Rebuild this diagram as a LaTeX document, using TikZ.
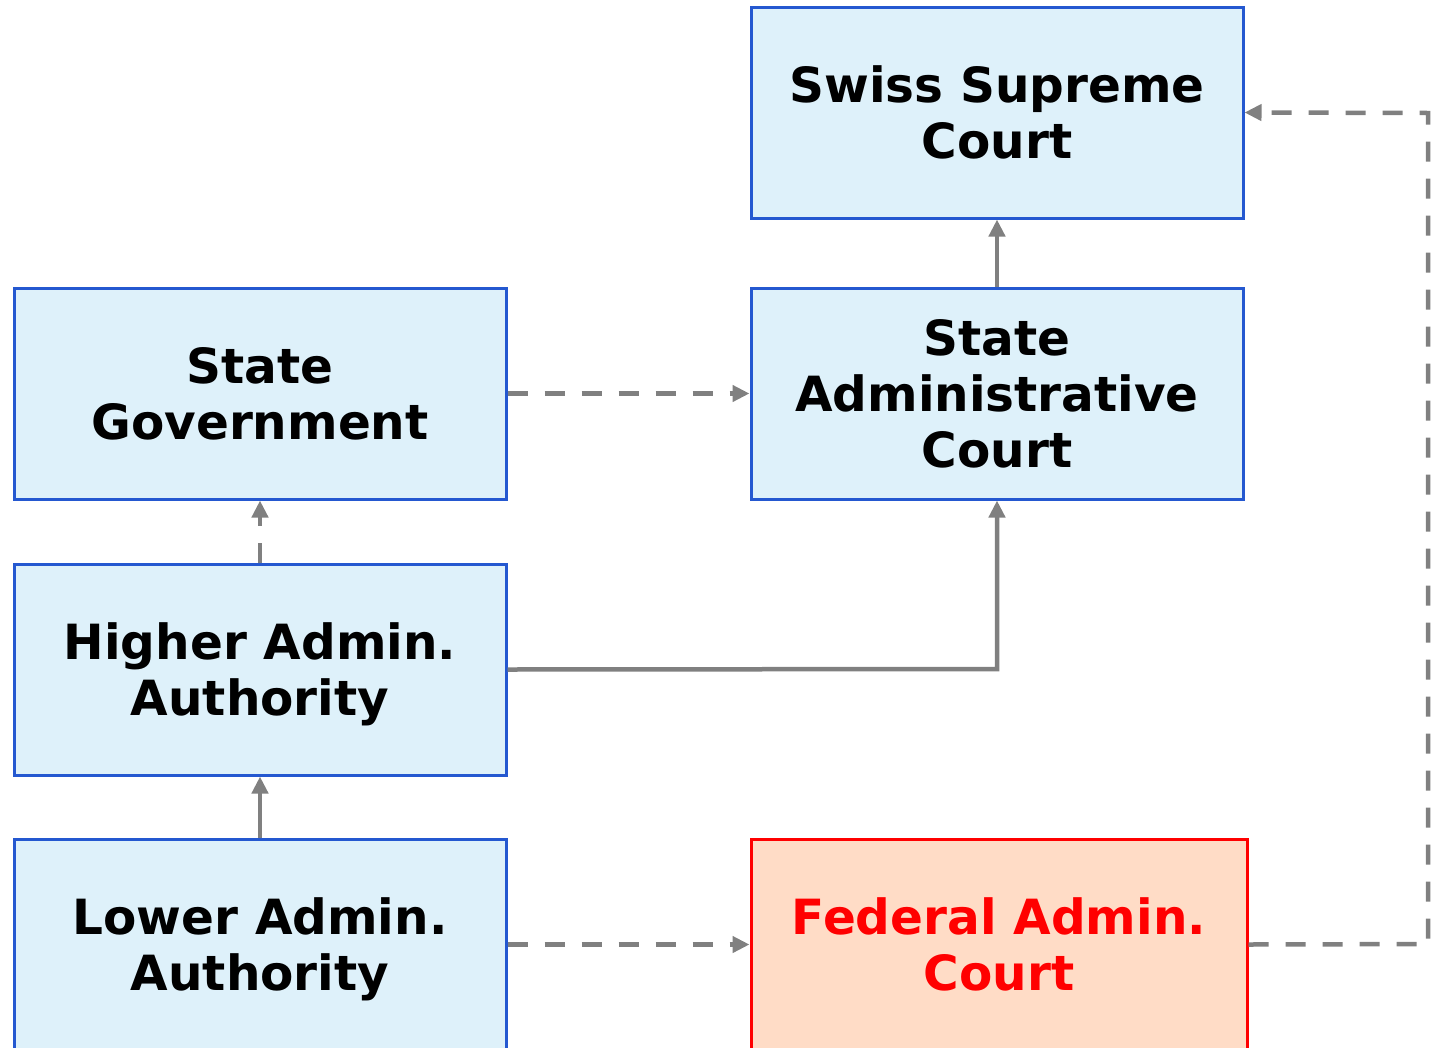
\documentclass[tikz,border=0pt]{standalone}
\usepackage{fontspec}
\setmainfont{DejaVu Sans}
\usetikzlibrary{arrows.meta}
\definecolor{bluebd}{RGB}{36,88,208}
\definecolor{bluefill}{RGB}{222,241,250}
\definecolor{redbd}{RGB}{255,0,0}
\definecolor{redfill}{RGB}{255,220,198}
\definecolor{conn}{RGB}{128,128,128}
\newcommand\ts{\rule{0pt}{48pt}}
\newcommand\bs{\rule[-12pt]{0pt}{12pt}}
\begin{document}
\begin{tikzpicture}[x=1pt,y=-1pt,
  box/.style={draw=bluebd,fill=bluefill,line width=3pt,minimum width=492pt,minimum height=211pt,
    align=center,inner sep=0pt,font=\fontsize{48.5}{56}\selectfont\bfseries,text=black},
  fedbox/.style={box,draw=redbd,fill=redfill,text=redbd,minimum width=496pt},
  link/.style={draw=conn,line width=4.5pt,-{Triangle[length=17pt,width=16pt]}},
  dlink/.style={link,dash pattern=on 20pt off 17pt}]
\useasboundingbox (0,0) rectangle (1435,1047);
\node[box] (ssc) at (997,112.5) {\ts Swiss Supreme\\Court\bs};
\node[box] (sg) at (260,393.5) {\ts State\\Government\bs};
\node[box] (sac) at (997,393.5) {\ts State\\Administrative\\Court\bs};
\node[box] (haa) at (260,669.5) {\ts Higher Admin.\\Authority\bs};
\node[box] (laa) at (260,944.5) {\ts Lower Admin.\\Authority\bs};
\node[fedbox] (fac) at (999,944.5) {\ts Federal Admin.\\Court\bs};
\coordinate (c1) at (997,669);
\coordinate (c2) at (1428,944);
\coordinate (c3) at (1428,113);
\draw[link] (sac.north) -- (ssc.south);
\draw[dlink] (sg.east) -- (sac.west);
\draw[dlink] (haa.north) -- (sg.south);
\draw[link] (haa.east) -- (c1) -- (sac.south);
\draw[link] (laa.north) -- (haa.south);
\draw[dlink] (laa.east) -- (fac.west);
\draw[dlink] (fac.east) -- (c2) -- (c3) -- (ssc.east);
\end{tikzpicture}
\end{document}
